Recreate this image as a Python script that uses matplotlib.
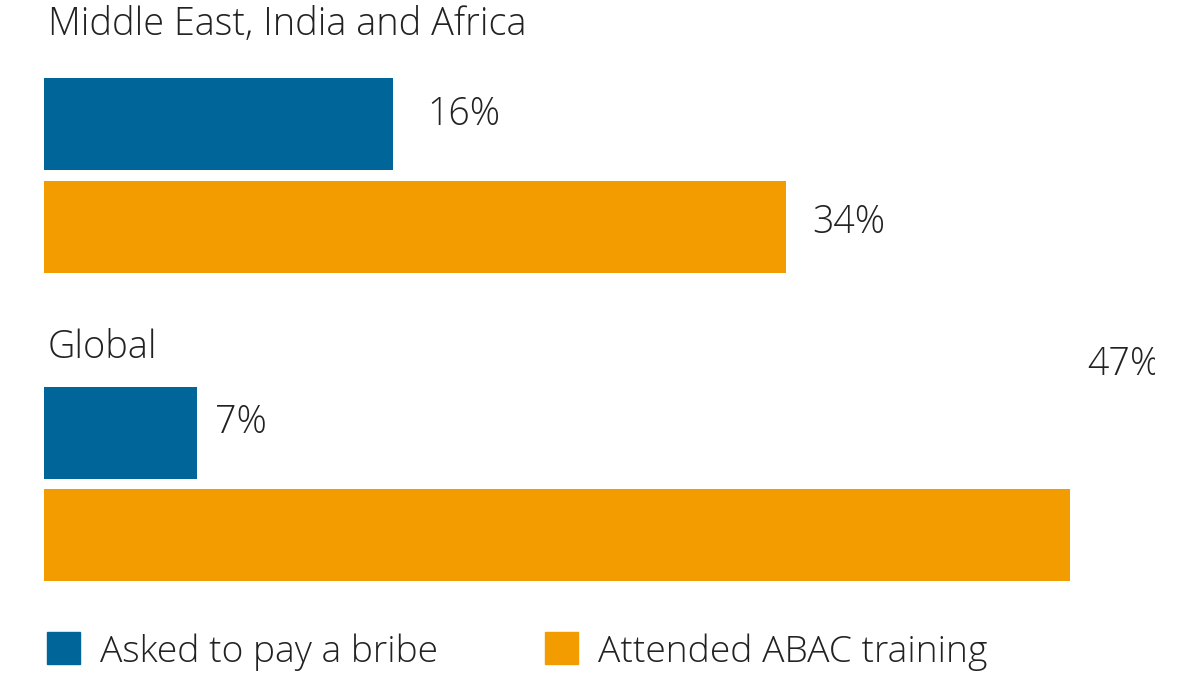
import matplotlib
matplotlib.use("Agg")
import matplotlib.pyplot as plt
from matplotlib.patches import Rectangle

# data
groups = ['Middle East, India and Africa', 'Global']
series = ['Asked to pay a bribe', 'Attended ABAC training']
bribe = [16, 7]
training = [34, 47]
colors = ['#006699', '#F39C00']

plt.rcParams['font.family'] = ['Open Sans', 'DejaVu Sans']

fig = plt.figure(figsize=(12, 6.8), dpi=100)
ax = fig.add_axes([0, 0, 1, 1])
ppu = (786 - 44) / 34.0          # pixels per percent
ax.set_xlim(-44 / ppu, (1200 - 44) / ppu)
ax.set_ylim(680, 0)
ax.axis('off')

bar_h = 92
title_y = [25, 348]
bar_y = [[124, 227], [433, 535]]
lab_dx = [[34, 26], [18, 18]]
lab_dy = [[-9, -4], [-10, -170]]

clip = Rectangle((-44 / ppu, 0), 1155 / ppu, 680,
                 transform=ax.transData, visible=False)
ax.add_patch(clip)

for g, name in enumerate(groups):
    ax.text(4 / ppu, title_y[g], name, fontsize=27.3, fontweight='light',
            color='#222222', va='center', ha='left')
    vals = [bribe[g], training[g]]
    for s in range(2):
        ax.barh(bar_y[g][s], vals[s], height=bar_h, left=0, color=colors[s])
        t = ax.text(vals[s] + lab_dx[g][s] / ppu, bar_y[g][s] + lab_dy[g][s],
                    f'{vals[s]}%', fontsize=27, fontweight='light',
                    color='#222222', va='center', ha='left', clip_on=True)
        t.set_clip_path(clip)

# legend
leg_x = [47, 545]
for s, name in enumerate(series):
    x0 = (leg_x[s] - 44) / ppu
    ax.add_patch(Rectangle((x0, 632), 33 / ppu, 32, color=colors[s]))
    ax.text(x0 + 53 / ppu, 652, name, fontsize=26.8, fontweight='light',
            color='#222222', va='center', ha='left')

fig.savefig('out.png', dpi=100)
